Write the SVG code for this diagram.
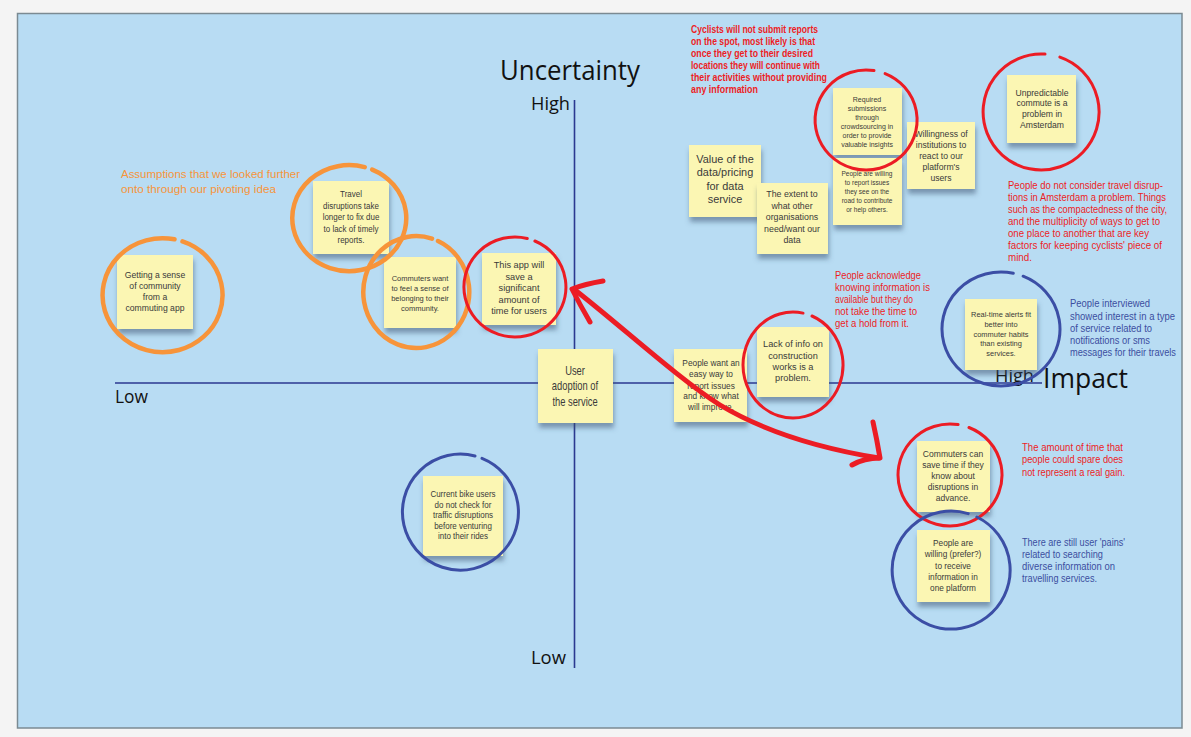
<svg xmlns="http://www.w3.org/2000/svg" width="1191" height="737" viewBox="0 0 1191 737">
<defs>
<filter id="sh" x="-20%" y="-20%" width="140%" height="150%">
<feDropShadow dx="1" dy="5" stdDeviation="2.5" flood-color="#36506a" flood-opacity="0.5"/>
</filter>
</defs>
<style>
.sticky{fill:#fbf6b3;filter:url(#sh)}
.st{font-family:"Liberation Sans",Arial,sans-serif;fill:#3a3a3a;text-anchor:middle}
.ax{font-family:"Open Sans","DejaVu Sans",sans-serif;fill:#111}
.axis{stroke:#2b3990;stroke-width:1.6;fill:none}
.an{font-family:"Liberation Sans",Arial,sans-serif;font-size:10.5px}
.red{fill:#ed1c24}
.blue{fill:#3b4ea0}
.org{fill:#f7943a}
.cr{fill:none;stroke:#ec1c24;stroke-width:3;stroke-linecap:round}
.cb{fill:none;stroke:#3b4ea5;stroke-width:3;stroke-linecap:round}
.co{fill:none;stroke:#f7943a;stroke-width:4.5;stroke-linecap:round}
.arrow{fill:none;stroke:#ec1c24;stroke-width:5;stroke-linecap:round;stroke-linejoin:round}
</style>
<rect width="1191" height="737" fill="#f4f4f4"/>
<rect x="17.5" y="13.5" width="1164.5" height="714.5" fill="#b8dcf3" stroke="#7b8a92" stroke-width="1.5"/>

<g id="axes">
<line class="axis" x1="574.5" y1="100" x2="574.5" y2="668"/>
<line class="axis" x1="115" y1="383" x2="1042" y2="383"/>
<text class="ax" x="500" y="80" font-size="27" textLength="140" lengthAdjust="spacingAndGlyphs">Uncertainty</text>
<text class="ax" x="531" y="110" font-size="18" textLength="39" lengthAdjust="spacingAndGlyphs">High</text>
<text class="ax" x="531" y="664" font-size="18" textLength="35" lengthAdjust="spacingAndGlyphs">Low</text>
<text class="ax" x="115" y="403" font-size="18" textLength="33" lengthAdjust="spacingAndGlyphs">Low</text>
<text class="ax" x="995" y="382" font-size="18" textLength="39" lengthAdjust="spacingAndGlyphs">High</text>
<text class="ax" x="1043" y="388" font-size="27" textLength="85" lengthAdjust="spacingAndGlyphs">Impact</text>
</g>

<g id="n-getting">
<rect class="sticky" x="117" y="255" width="76" height="74"/>
<text class="st" font-size="9" transform="translate(155 0) scale(0.96 1)"><tspan x="0" y="278">Getting a sense</tspan><tspan x="0" y="289.5">of community</tspan><tspan x="0" y="300.5">from a</tspan><tspan x="0" y="311.5">commuting app</tspan></text>
</g>
<g id="n-travel">
<rect class="sticky" x="313" y="181" width="76" height="73"/>
<text class="st" font-size="9.5" transform="translate(351 0) scale(0.84 1)"><tspan x="0" y="197.5">Travel</tspan><tspan x="0" y="209">disruptions take</tspan><tspan x="0" y="220.5">longer to fix due</tspan><tspan x="0" y="232">to lack of timely</tspan><tspan x="0" y="243.5">reports.</tspan></text>
</g>
<g id="n-belonging">
<rect class="sticky" x="384" y="257" width="72" height="71"/>
<text class="st" font-size="8" transform="translate(420 0) scale(0.94 1)"><tspan x="0" y="281">Commuters want</tspan><tspan x="0" y="291">to feel a sense of</tspan><tspan x="0" y="301">belonging to their</tspan><tspan x="0" y="311">community.</tspan></text>
</g>
<g id="n-saveapp">
<rect class="sticky" x="482" y="253" width="74" height="72"/>
<text class="st" font-size="9.8" transform="translate(519 0) scale(0.94 1)"><tspan x="0" y="268.5">This app will</tspan><tspan x="0" y="280">save a</tspan><tspan x="0" y="291.5">significant</tspan><tspan x="0" y="303">amount of</tspan><tspan x="0" y="314.5">time for users</tspan></text>
</g>
<g id="n-adoption">
<rect class="sticky" x="538" y="349" width="75" height="74"/>
<text class="st" font-size="12" transform="translate(575 0) scale(0.78 1)"><tspan x="0" y="375.5">User</tspan><tspan x="0" y="390.5">adoption of</tspan><tspan x="0" y="406">the service</tspan></text>
</g>
<g id="n-easyway">
<rect class="sticky" x="674" y="349" width="73" height="73"/>
<text class="st" font-size="8.5" transform="translate(711 0) scale(0.98 1)"><tspan x="0" y="366.5">People want an</tspan><tspan x="0" y="377.5">easy way to</tspan><tspan x="0" y="389">report issues</tspan><tspan x="0" y="399.5">and know what</tspan><tspan x="0" y="410">will improve.</tspan></text>
</g>
<g id="n-lackinfo">
<rect class="sticky" x="757" y="327" width="72" height="70"/>
<text class="st" font-size="9.5" transform="translate(793 0) scale(0.97 1)"><tspan x="0" y="347.5">Lack of info on</tspan><tspan x="0" y="359">construction</tspan><tspan x="0" y="370.5">works is a</tspan><tspan x="0" y="381.5">problem.</tspan></text>
</g>
<g id="n-value">
<rect class="sticky" x="689" y="145" width="72" height="72"/>
<text class="st" font-size="11.5" transform="translate(725 0) scale(0.95 1)"><tspan x="0" y="163">Value of the</tspan><tspan x="0" y="176.5">data/pricing</tspan><tspan x="0" y="190">for data</tspan><tspan x="0" y="203.5">service</tspan></text>
</g>
<g id="n-extent">
<rect class="sticky" x="757" y="183" width="71" height="71"/>
<text class="st" font-size="9.8" transform="translate(792 0) scale(0.9 1)"><tspan x="0" y="197.5">The extent to</tspan><tspan x="0" y="209">what other</tspan><tspan x="0" y="220.5">organisations</tspan><tspan x="0" y="232">need/want our</tspan><tspan x="0" y="243.5">data</tspan></text>
</g>
<g id="n-required">
<rect class="sticky" x="833" y="88" width="69" height="67"/>
<text class="st" font-size="7" transform="translate(867 0) scale(1 1)"><tspan x="0" y="101.5">Required</tspan><tspan x="0" y="110.5">submissions</tspan><tspan x="0" y="119.5">through</tspan><tspan x="0" y="128.5">crowdsourcing in</tspan><tspan x="0" y="137.5">order to provide</tspan><tspan x="0" y="146.5">valuable insights</tspan></text>
</g>
<g id="n-willingreport">
<rect class="sticky" x="833" y="158" width="69" height="67"/>
<text class="st" font-size="7" transform="translate(867 0) scale(0.93 1)"><tspan x="0" y="176.5">People are willing</tspan><tspan x="0" y="185.3">to report issues</tspan><tspan x="0" y="194.1">they see on the</tspan><tspan x="0" y="202.9">road to contribute</tspan><tspan x="0" y="211.7">or help others.</tspan></text>
</g>
<g id="n-institutions">
<rect class="sticky" x="907" y="122" width="68" height="67"/>
<text class="st" font-size="9.6" transform="translate(941 0) scale(0.9 1)"><tspan x="0" y="137">Willingness of</tspan><tspan x="0" y="148">institutions to</tspan><tspan x="0" y="159">react to our</tspan><tspan x="0" y="170">platform's</tspan><tspan x="0" y="181">users</tspan></text>
</g>
<g id="n-unpredictable">
<rect class="sticky" x="1007" y="75" width="69" height="68"/>
<text class="st" font-size="8.9" transform="translate(1042 0) scale(0.97 1)"><tspan x="0" y="96">Unpredictable</tspan><tspan x="0" y="106.5">commute is a</tspan><tspan x="0" y="117.5">problem in</tspan><tspan x="0" y="128.5">Amsterdam</tspan></text>
</g>
<g id="n-realtime">
<rect class="sticky" x="965" y="299" width="72" height="71"/>
<text class="st" font-size="8" transform="translate(1001 0) scale(0.93 1)"><tspan x="0" y="317">Real-time alerts fit</tspan><tspan x="0" y="326.8">better into</tspan><tspan x="0" y="336.6">commuter habits</tspan><tspan x="0" y="346.4">than existing</tspan><tspan x="0" y="356.2">services.</tspan></text>
</g>
<g id="n-bikeusers">
<rect class="sticky" x="423" y="476" width="80" height="80"/>
<text class="st" font-size="8.5" transform="translate(463 0) scale(0.94 1)"><tspan x="0" y="497.5">Current bike users</tspan><tspan x="0" y="508">do not check for</tspan><tspan x="0" y="518.5">traffic disruptions</tspan><tspan x="0" y="529">before venturing</tspan><tspan x="0" y="539.5">into their rides</tspan></text>
</g>
<g id="n-savetime">
<rect class="sticky" x="917" y="441" width="73" height="71"/>
<text class="st" font-size="9" transform="translate(953 0) scale(0.95 1)"><tspan x="0" y="457.5">Commuters can</tspan><tspan x="0" y="468.5">save time if they</tspan><tspan x="0" y="479.5">know about</tspan><tspan x="0" y="490.5">disruptions in</tspan><tspan x="0" y="501.5">advance.</tspan></text>
</g>
<g id="n-oneplatform">
<rect class="sticky" x="917" y="530" width="73" height="72"/>
<text class="st" font-size="9" transform="translate(953 0) scale(0.92 1)"><tspan x="0" y="546.5">People are</tspan><tspan x="0" y="557.5">willing (prefer?)</tspan><tspan x="0" y="569">to receive</tspan><tspan x="0" y="580">information in</tspan><tspan x="0" y="591">one platform</tspan></text>
</g>

<g id="circles">
<path class="co" d="M182.5,241.4 A60,57 0 1,1 174.5,239.3"/>
<path class="co" d="M372.2,169.6 A57,53 0 1,1 364.7,167.1"/>
<path class="co" d="M438,241 A53,56 0 1,1 432,238.6"/>
<path class="cr" d="M534.9,241 A51,50 0 1,1 527.3,238.5"/>
<path class="cr" d="M812,316 A50,53 0 1,1 803,313.1"/>
<path class="cr" d="M885.1,73.6 A51,50 0 1,1 874,70.6"/>
<path class="cr" d="M1059.9,57.1 A58,58 0 1,1 1045,54.1"/>
<path class="cb" d="M1023.1,276.2 A59,57 0 1,1 1013.3,273.3"/>
<path class="cb" d="M482,458.3 A58,58 0 1,1 475,456"/>
<path class="cr" d="M969,427.5 A52,51 0 1,1 958.1,424.6"/>
<path class="cb" d="M976.9,517 A59,59 0 1,1 968.2,513.6"/>
</g>

<g id="annotations">
<text class="an red" font-weight="bold" transform="translate(691 0) scale(0.68 1)"><tspan x="0" y="33.5" textLength="186.8" lengthAdjust="spacingAndGlyphs">Cyclists will not submit reports</tspan><tspan x="0" y="45.5" textLength="182.4" lengthAdjust="spacingAndGlyphs">on the spot, most likely is that</tspan><tspan x="0" y="57.5" textLength="179.4" lengthAdjust="spacingAndGlyphs">once they get to their desired</tspan><tspan x="0" y="69.5" textLength="189.7" lengthAdjust="spacingAndGlyphs">locations they will continue with</tspan><tspan x="0" y="81.5" textLength="200" lengthAdjust="spacingAndGlyphs">their activities without providing</tspan><tspan x="0" y="93.5" textLength="98.5" lengthAdjust="spacingAndGlyphs">any information</tspan></text>
<text class="an org" font-size="12" transform="translate(121 0) scale(0.88 1)"><tspan x="0" y="178" textLength="203.4" lengthAdjust="spacingAndGlyphs">Assumptions that we looked further</tspan><tspan x="0" y="193" textLength="176.1" lengthAdjust="spacingAndGlyphs">onto through our pivoting idea</tspan></text>
<text class="an red" transform="translate(1008 0) scale(0.8 1)"><tspan x="0" y="189" textLength="193.75" lengthAdjust="spacingAndGlyphs">People do not consider travel disrup-</tspan><tspan x="0" y="201" textLength="197.5" lengthAdjust="spacingAndGlyphs">tions in Amsterdam a problem. Things</tspan><tspan x="0" y="213" textLength="198.75" lengthAdjust="spacingAndGlyphs">such as the compactedness of the city,</tspan><tspan x="0" y="225" textLength="190" lengthAdjust="spacingAndGlyphs">and the multiplicity of ways to get to</tspan><tspan x="0" y="237" textLength="176.25" lengthAdjust="spacingAndGlyphs">one place to another that are key</tspan><tspan x="0" y="249" textLength="192.5" lengthAdjust="spacingAndGlyphs">factors for keeping cyclists' piece of</tspan><tspan x="0" y="261" textLength="30" lengthAdjust="spacingAndGlyphs">mind.</tspan></text>
<text class="an red" transform="translate(835 0) scale(0.8 1)"><tspan x="0" y="279" textLength="107.5" lengthAdjust="spacingAndGlyphs">People acknowledge</tspan><tspan x="0" y="291" textLength="118.75" lengthAdjust="spacingAndGlyphs">knowing information is</tspan><tspan x="0" y="303" textLength="97.5" lengthAdjust="spacingAndGlyphs">available but they do</tspan><tspan x="0" y="315" textLength="102.5" lengthAdjust="spacingAndGlyphs">not take the time to</tspan><tspan x="0" y="327" textLength="92.5" lengthAdjust="spacingAndGlyphs">get a hold from it.</tspan></text>
<text class="an blue" transform="translate(1070 0) scale(0.78 1)"><tspan x="0" y="307.5" textLength="102.6" lengthAdjust="spacingAndGlyphs">People interviewed</tspan><tspan x="0" y="319.7" textLength="134.6" lengthAdjust="spacingAndGlyphs">showed interest in a type</tspan><tspan x="0" y="331.9" textLength="105.1" lengthAdjust="spacingAndGlyphs">of service related to</tspan><tspan x="0" y="344.1" textLength="102.6" lengthAdjust="spacingAndGlyphs">notifications or sms</tspan><tspan x="0" y="356.3" textLength="135.9" lengthAdjust="spacingAndGlyphs">messages for their travels</tspan></text>
<text class="an red" transform="translate(1022 0) scale(0.78 1)"><tspan x="0" y="451" textLength="129.5" lengthAdjust="spacingAndGlyphs">The amount of time that</tspan><tspan x="0" y="463.5" textLength="129.5" lengthAdjust="spacingAndGlyphs">people could spare does</tspan><tspan x="0" y="476" textLength="132.1" lengthAdjust="spacingAndGlyphs">not represent a real gain.</tspan></text>
<text class="an blue" transform="translate(1022 0) scale(0.78 1)"><tspan x="0" y="546" textLength="132.1" lengthAdjust="spacingAndGlyphs">There are still user 'pains'</tspan><tspan x="0" y="558" textLength="103.8" lengthAdjust="spacingAndGlyphs">related to searching</tspan><tspan x="0" y="570" textLength="119.2" lengthAdjust="spacingAndGlyphs">diverse information on</tspan><tspan x="0" y="582" textLength="96.2" lengthAdjust="spacingAndGlyphs">travelling services.</tspan></text>
</g>

<g id="connectors">
<path class="arrow" d="M575,290 C620,325 680,380 720,405 C770,435 830,450 879,458"/>
<path class="arrow" d="M603,281 Q585,284 572,289 Q580,305 590,322"/>
<path class="arrow" d="M873,422 Q877,440 880,458 Q864,458 852,465"/>
</g>
</svg>
